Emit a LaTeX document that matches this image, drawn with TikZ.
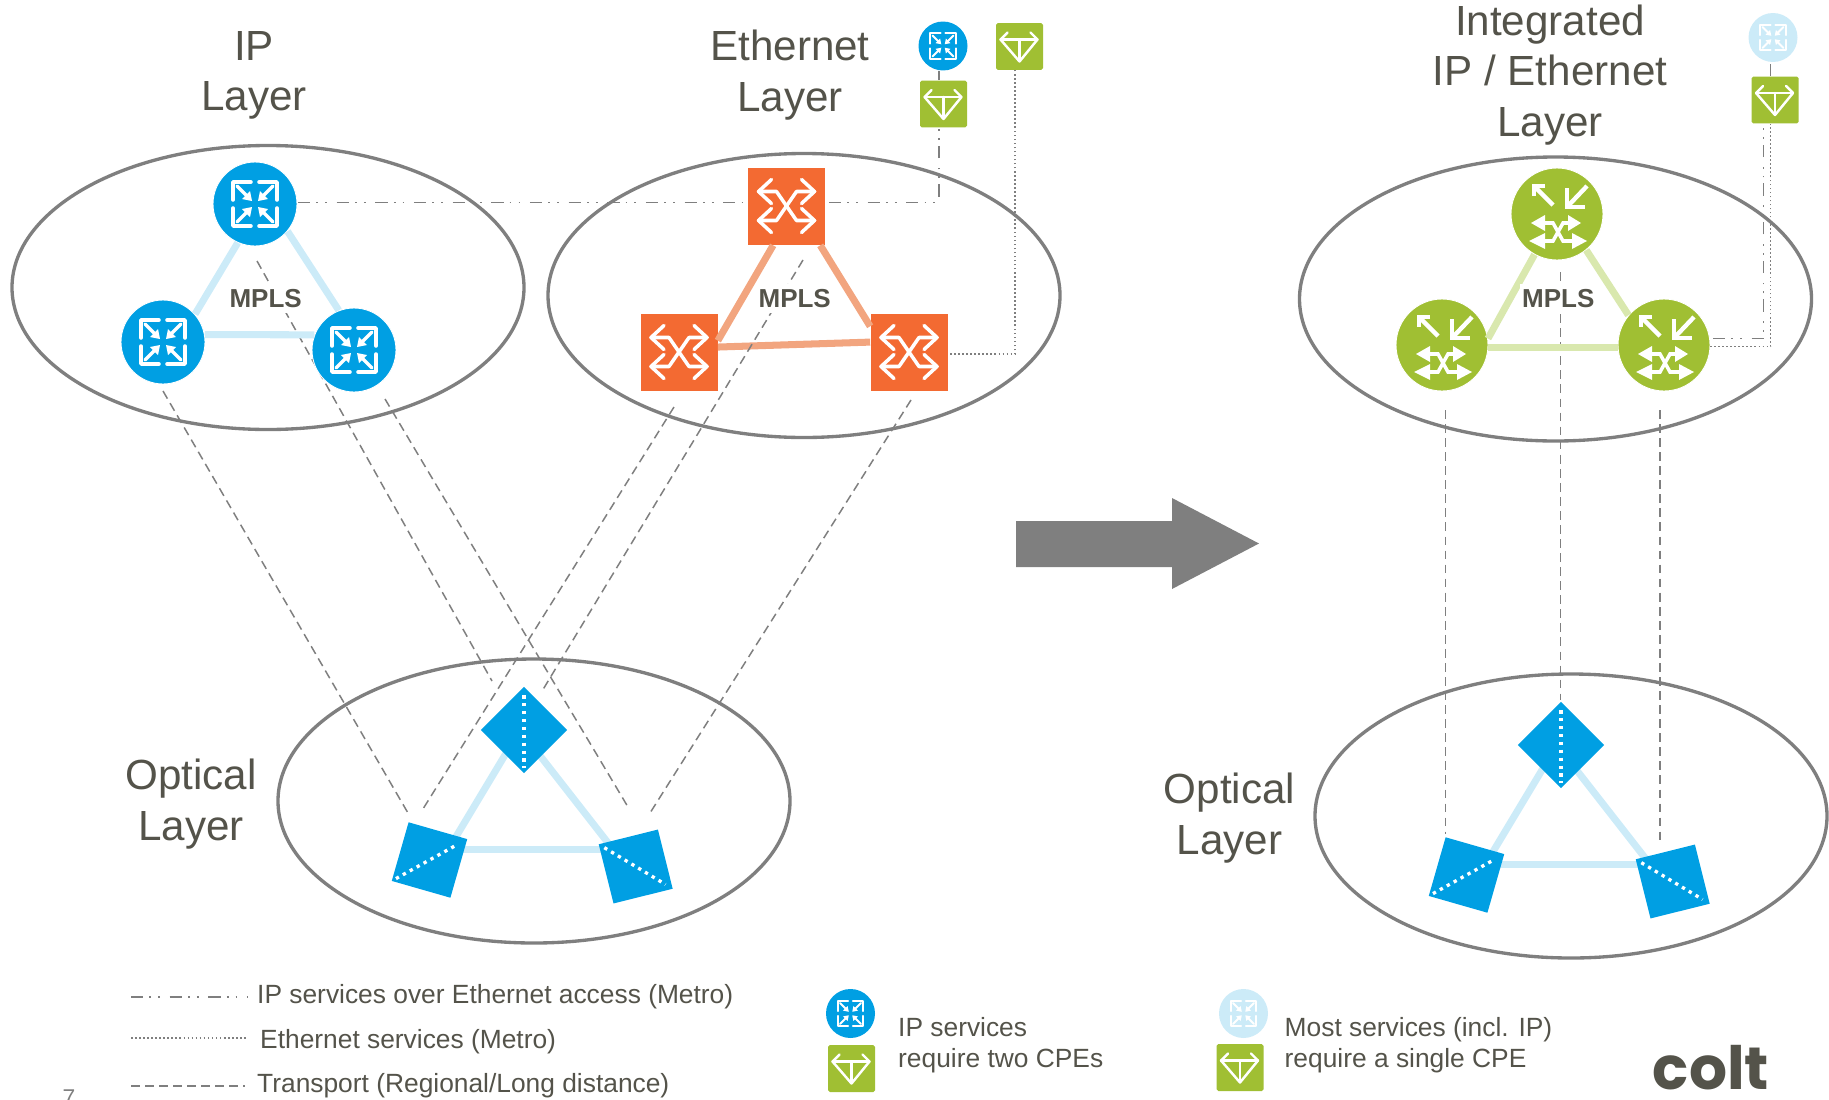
\documentclass[tikz,border=0pt]{standalone}
\usepackage{fontspec}
\setmainfont{Liberation Sans}
\newfontfamily\logofont{Poppins}
\usepackage{tikz}
\usetikzlibrary{calc}
\definecolor{inktext}{HTML}{54534A}
\definecolor{linegrey}{HTML}{7F7F7F}
\definecolor{ipblue}{HTML}{009FE3}
\definecolor{iplight}{HTML}{CCEBF8}
\definecolor{ethorange}{HTML}{F36A32}
\definecolor{ethlight}{HTML}{F2A57F}
\definecolor{mixgreen}{HTML}{A0BF33}
\definecolor{mixlight}{HTML}{D9E8AE}
\tikzset{
	layerring/.style={draw=linegrey,line width=1.9pt},
	titletext/.style={text=inktext,align=center,font=\fontsize{24}{28.6}\selectfont},
	smalltext/.style={text=inktext,align=left,anchor=west,font=\fontsize{15}{18}\selectfont},
	mplstext/.style={text=inktext,fill=white,inner xsep=1pt,inner ysep=3pt,font=\bfseries\fontsize{14.8}{16}\selectfont},
	iprouter/.style={circle,fill=ipblue,draw=white,line width=.5pt,minimum size=1.68cm,inner sep=0pt},
	ipcpe/.style={circle,fill=ipblue,minimum size=.98cm,inner sep=0pt},
	palecpe/.style={circle,fill=iplight,minimum size=.98cm,inner sep=0pt},
	ethswitch/.style={rectangle,fill=ethorange,minimum size=1.54cm,inner sep=0pt},
	mixrouter/.style={circle,fill=mixgreen,draw=white,line width=.5pt,minimum size=1.84cm,inner sep=0pt},
	greencpe/.style={rectangle,fill=mixgreen,rounded corners=1pt,minimum size=.94cm,inner sep=0pt},
	optbox/.style={rectangle,fill=ipblue,minimum size=1.22cm,inner sep=0pt},
	iplink/.style={draw=iplight,line width=4pt},
	ethlink/.style={draw=ethlight,line width=4pt},
	mixlink/.style={draw=mixlight,line width=4pt},
	fibredots/.style={draw=white,line width=1.9pt,dash pattern=on 1.9pt off 2.6pt},
	transport/.style={draw=linegrey,line width=.85pt,dash pattern=on 5pt off 3pt},
	ethservice/.style={draw=linegrey,line width=.85pt,dash pattern=on .9pt off 1.4pt},
	ipservice/.style={draw=linegrey,line width=.85pt,dash pattern=on 7pt off 3.5pt on 1pt off 4pt on 1pt off 5.5pt},
	glyphline/.style={draw=white,line cap=round,line join=round},
	bigglyph/.style={line width=2pt},
	tinyglyph/.style={scale=.58,line width=1.1pt},
	routerglyph/.pic={
		\foreach \sx/\sy in {1/1,1/-1,-1/1,-1/-1}{
			\draw[glyphline] ({\sx*22},{\sy*4}) -- ({\sx*22},{\sy*22}) -- ({\sx*4},{\sy*22});
			\draw[glyphline] ({\sx*18},{\sy*18}) -- ({\sx*8},{\sy*8});
			\fill[white] ({\sx*3},{\sy*3}) -- ({\sx*13},{\sy*5}) -- ({\sx*5},{\sy*13}) -- cycle;
		}
	},
	switchglyph/.pic={
		\draw[glyphline] (-28,-15) -- (-10,-15) -- (10,14) -- (28,14);
		\draw[glyphline] (-28,14) -- (-10,14) -- (10,-15) -- (28,-15);
		\foreach \sx in {1,-1}{
			\draw[glyphline] ({\sx*15},-27) -- ({\sx*28},-15) -- ({\sx*15},-3);
			\draw[glyphline] ({\sx*15},2) -- ({\sx*28},14) -- ({\sx*15},26);
		}
	},
	cpeglyph/.pic={
		\draw[glyphline] (-19,-7) -- (18,-7);
		\draw[glyphline] (0,-7) -- (0,14);
		\draw[glyphline] (-12,-14) -- (-19,-7) -- (0,15) -- (18,-7) -- (11,-14);
	},
	mixglyph/.pic={
		\draw[glyphline,line cap=butt,line join=miter] (-12,-28) -- (-23,-28) -- (-23,-18);
		\draw[glyphline,line cap=butt] (-23,-28) -- (-4,-9);
		\draw[glyphline,line cap=butt,line join=miter] (10,-26) -- (10,-7) -- (28,-7);
		\draw[glyphline,line cap=butt] (10,-7) -- (30,-28);
		\fill[white] (-26,9) -- (-12,1) -- (-12,17) -- cycle;
		\fill[white] (-28,27) -- (-12,19) -- (-12,35) -- cycle;
		\fill[white] (24,9) -- (11,1) -- (11,17) -- cycle;
		\fill[white] (30,27) -- (15,19) -- (15,35) -- cycle;
		\draw[draw=white,line width=2pt] (-12,9) -- (-4,9) -- (6,27) -- (15,27);
		\draw[draw=white,line width=2pt] (-12,27) -- (-4,27) -- (6,9) -- (11,9);
	},
}
\begin{document}
\begin{tikzpicture}[x=.02cm,y=-.02cm]
	\useasboundingbox (0,0) rectangle (1829,1099);

	%rings (one per layer)
	\draw[layerring] (268,287.5) ellipse (256 and 142);
	\draw[layerring] (804,295.5) ellipse (256 and 142);
	\draw[layerring] (1555.5,299) ellipse (256 and 142);
	\draw[layerring] (534,801) ellipse (256 and 142);
	\draw[layerring] (1571,816) ellipse (256 and 142);

	%titles
	\node[titletext] (iptitle) at (254,75) {IP\\Layer};
	\node[titletext] (ethtitle) at (790,75) {Ethernet\\Layer};
	\node[titletext] (mixtitle) at (1550,75) {Integrated\\IP / Ethernet\\Layer};
	\node[titletext] (opttitle) at (191,804) {Optical\\Layer};
	\node[titletext] (opttitleb) at (1229.5,818) {Optical\\Layer};

	%ethernet layer (switches)
	\node[ethswitch] (ethone) at (786.5,206.5) {};
	\node[ethswitch] (ethtwo) at (679,352.5) {};
	\node[ethswitch] (eththree) at (909,352.5) {};
	\draw[ethlink] (ethone.251) -- (ethtwo.17);
	\draw[ethlink] (ethone.311) -- (eththree.146.5);
	\draw[ethlink] (ethtwo.8.4) -- (eththree.165.3);

	%cpes above the layers
	\node[ipcpe] (cpeone) at (943,46) {};
	\node[greencpe] (cpetwo) at (943.5,104) {};
	\node[greencpe] (cpethree) at (1019.5,46.5) {};
	\node[palecpe] (cpefour) at (1773,37.5) {};
	\node[greencpe] (cpefive) at (1775,100) {};

	%transport (left)
	\coordinate (ipdownone) at (163,391);
	\coordinate (optinone) at (408,813);
	\coordinate (ipdowntwo) at (257,261);
	\coordinate (optintwo) at (492,681);
	\coordinate (ipdownthree) at (385,399);
	\coordinate (optinthree) at (628,807);
	\coordinate (ethdownone) at (674,407);
	\coordinate (optinfour) at (421.7,811);
	\coordinate (ethdowntwo) at (803,260);
	\coordinate (optinfive) at (542.7,690);
	\coordinate (ethdownthree) at (911,400);
	\coordinate (optinsix) at (650,813);
	\draw[transport] (ipdownone) -- (optinone);
	\draw[transport] (ipdowntwo) -- (optintwo);
	\draw[transport] (ipdownthree) -- (optinthree);
	\draw[transport] (ethdownone) -- (optinfour);
	\draw[transport] (ethdowntwo) -- (optinfive);
	\draw[transport] (ethdownthree) -- (optinsix);

	%transport (right)
	\coordinate (mixdownone) at (1445.5,410);
	\coordinate (optinseven) at (1445.5,834);
	\coordinate (mixdowntwo) at (1560.7,272);
	\coordinate (optineight) at (1560.7,700);
	\coordinate (mixdownthree) at (1660,410);
	\coordinate (optinnine) at (1660,840);
	\draw[transport] (mixdownone) -- (optinseven);
	\draw[transport] (mixdowntwo) -- (optineight);
	\draw[transport] (mixdownthree) -- (optinnine);

	%ip layer (routers)
	\node[iprouter] (ipone) at (255,204) {};
	\node[iprouter] (iptwo) at (163,342) {};
	\node[iprouter] (ipthree) at (354,350) {};
	\draw[iplink] (ipone.246) -- (iptwo.41);
	\draw[iplink] (ipone.320) -- (ipthree.111);
	\draw[iplink] (iptwo.10) -- (ipthree.159);

	%integrated layer (routers)
	\node[mixrouter] (mixone) at (1557,214) {};
	\node[mixrouter] (mixtwo) at (1442,345) {};
	\node[mixrouter] (mixthree) at (1664,345) {};
	\draw[mixlink] (mixone.241) -- (mixtwo.8.5);
	\draw[mixlink] (mixone.309.5) -- (mixthree.140);
	\draw[mixlink] (mixtwo.357) -- (mixthree.183);

	%services to the cpes
	\coordinate (ipout) at (298,202.5);
	\coordinate (ipturn) at (939,202.5);
	\draw[ipservice] (ipout) -- (ipout -| ethone.west);
	\draw[ipservice,shorten <=2pt] (ipout -| ethone.east) -- (ipturn) -- (ipturn |- cpetwo.south);
	\draw[ipservice] (ipturn |- cpetwo.north) -- (ipturn |- cpeone.south);
	\coordinate (ethout) at (950,354);
	\coordinate (ethturn) at (1015,354);
	\draw[ethservice] (ethout) -- (ethturn) -- (ethturn |- cpethree.south);
	\coordinate (mixoutone) at (1713,338.7);
	\coordinate (mixturnone) at (1763.3,338.7);
	\draw[ipservice] (mixoutone) -- (mixturnone) -- (mixturnone |- cpefive.south);
	\coordinate (mixouttwo) at (1710,346.7);
	\coordinate (mixturntwo) at (1770.7,346.7);
	\draw[ethservice] (mixouttwo) -- (mixturntwo) -- (mixturntwo |- cpefive.south);
	\draw[ipservice] (mixturntwo |- cpefive.north) -- (mixturntwo |- cpefour.south);

	%glyphs
	\pic[bigglyph] at (ipone) {routerglyph};
	\pic[bigglyph] at (iptwo) {routerglyph};
	\pic[bigglyph] at (ipthree) {routerglyph};
	\pic[bigglyph] at (ethone) {switchglyph};
	\pic[bigglyph] at (ethtwo) {switchglyph};
	\pic[bigglyph] at (eththree) {switchglyph};
	\pic[line width=2.5pt] at (mixone) {mixglyph};
	\pic[line width=2.5pt] at (mixtwo) {mixglyph};
	\pic[line width=2.5pt] at (mixthree) {mixglyph};
	\pic[tinyglyph] at (cpeone) {routerglyph};
	\pic[tinyglyph] at (cpefour) {routerglyph};
	\pic[line width=1.4pt] at (cpetwo) {cpeglyph};
	\pic[line width=1.4pt] at (cpethree) {cpeglyph};
	\pic[line width=1.4pt] at (cpefive) {cpeglyph};

	\node[mplstext] (mplsip) at (265.7,299) {MPLS};
	\node[mplstext] (mplseth) at (794.7,298.3) {MPLS};
	\node[mplstext] (mplsmix) at (1558.3,298.3) {MPLS};

	%optical triangle (left)
	\coordinate (optpeak) at (520,730);
	\coordinate (optleft) at (442,860);
	\coordinate (optright) at (637,880);
	\draw[iplink] (optpeak) -- (optleft);
	\draw[iplink] (optpeak) -- (optright);
	\draw[iplink] (440,849.3) -- (620,849.3);
	\node[optbox,rotate=45] (boxone) at (524,730) {};
	\node[optbox,rotate=-16] (boxtwo) at (429.5,860) {};
	\node[optbox,rotate=14] (boxthree) at (635.7,866.5) {};
	\draw[fibredots,shorten <=5pt,shorten >=3pt] (boxone.north east) -- (boxone.south west);
	\draw[fibredots,shorten <=3pt,shorten >=8pt] (boxtwo.south west) -- (boxtwo.north east);
	\draw[fibredots,shorten <=4pt,shorten >=5pt] (boxthree.north west) -- (boxthree.south east);

	%optical triangle (right)
	\coordinate (optpeakb) at (1557,745);
	\coordinate (optleftb) at (1479,875);
	\coordinate (optrightb) at (1674,895);
	\draw[iplink] (optpeakb) -- (optleftb);
	\draw[iplink] (optpeakb) -- (optrightb);
	\draw[iplink] (1477,864.3) -- (1657,864.3);
	\node[optbox,rotate=45] (boxoneb) at (1561,745) {};
	\node[optbox,rotate=-16] (boxtwob) at (1466.5,875) {};
	\node[optbox,rotate=14] (boxthreeb) at (1672.7,881.5) {};
	\draw[fibredots,shorten <=5pt,shorten >=3pt] (boxoneb.north east) -- (boxoneb.south west);
	\draw[fibredots,shorten <=3pt,shorten >=8pt] (boxtwob.south west) -- (boxtwob.north east);
	\draw[fibredots,shorten <=4pt,shorten >=5pt] (boxthreeb.north west) -- (boxthreeb.south east);

	%big arrow
	\fill[linegrey] (1016,521) -- (1172,521) -- (1172,498) -- (1259,543.5) -- (1172,589) -- (1172,567) -- (1016,567) -- cycle;

	%legend (lines)
	\coordinate (legoneleft) at (131,997);
	\coordinate (legoneright) at (247,997);
	\coordinate (legtwoleft) at (131,1038);
	\coordinate (legtworight) at (247,1038);
	\coordinate (legthreeleft) at (131,1086);
	\coordinate (legthreeright) at (245,1086);
	\draw[ipservice] (legoneleft) -- (legoneright);
	\draw[ethservice] (legtwoleft) -- (legtworight);
	\draw[transport] (legthreeleft) -- (legthreeright);
	\node[smalltext] (legone) at (251,997) {IP services over Ethernet access (Metro)};
	\node[smalltext] (legtwo) at (254,1042) {Ethernet services (Metro)};
	\node[smalltext] (legthree) at (251,1086) {Transport (Regional/Long distance)};

	%legend (cpes)
	\node[ipcpe] (legipcpe) at (850.5,1013.5) {};
	\node[greencpe] (leggreena) at (851.5,1068.5) {};
	\node[palecpe] (legpalecpe) at (1243.5,1013.5) {};
	\node[greencpe] (leggreenb) at (1240,1067.5) {};
	\pic[tinyglyph] at (legipcpe) {routerglyph};
	\pic[tinyglyph] at (legpalecpe) {routerglyph};
	\pic[line width=1.4pt] at (leggreena) {cpeglyph};
	\pic[line width=1.4pt] at (leggreenb) {cpeglyph};
	\node[smalltext] (legtwocpes) at (892,1045) {IP services\\require two CPEs};
	\node[smalltext] (legonecpe) at (1278.5,1045) {Most services (incl. IP)\\require a single CPE};

	\node[text=linegrey,font=\fontsize{13}{15}\selectfont] (pagenum) at (69,1098) {7};
	\node[text=inktext,font=\logofont\bfseries\fontsize{34}{36}\selectfont] (logo) at (1711,1068) {colt};
\end{tikzpicture}
\end{document}
